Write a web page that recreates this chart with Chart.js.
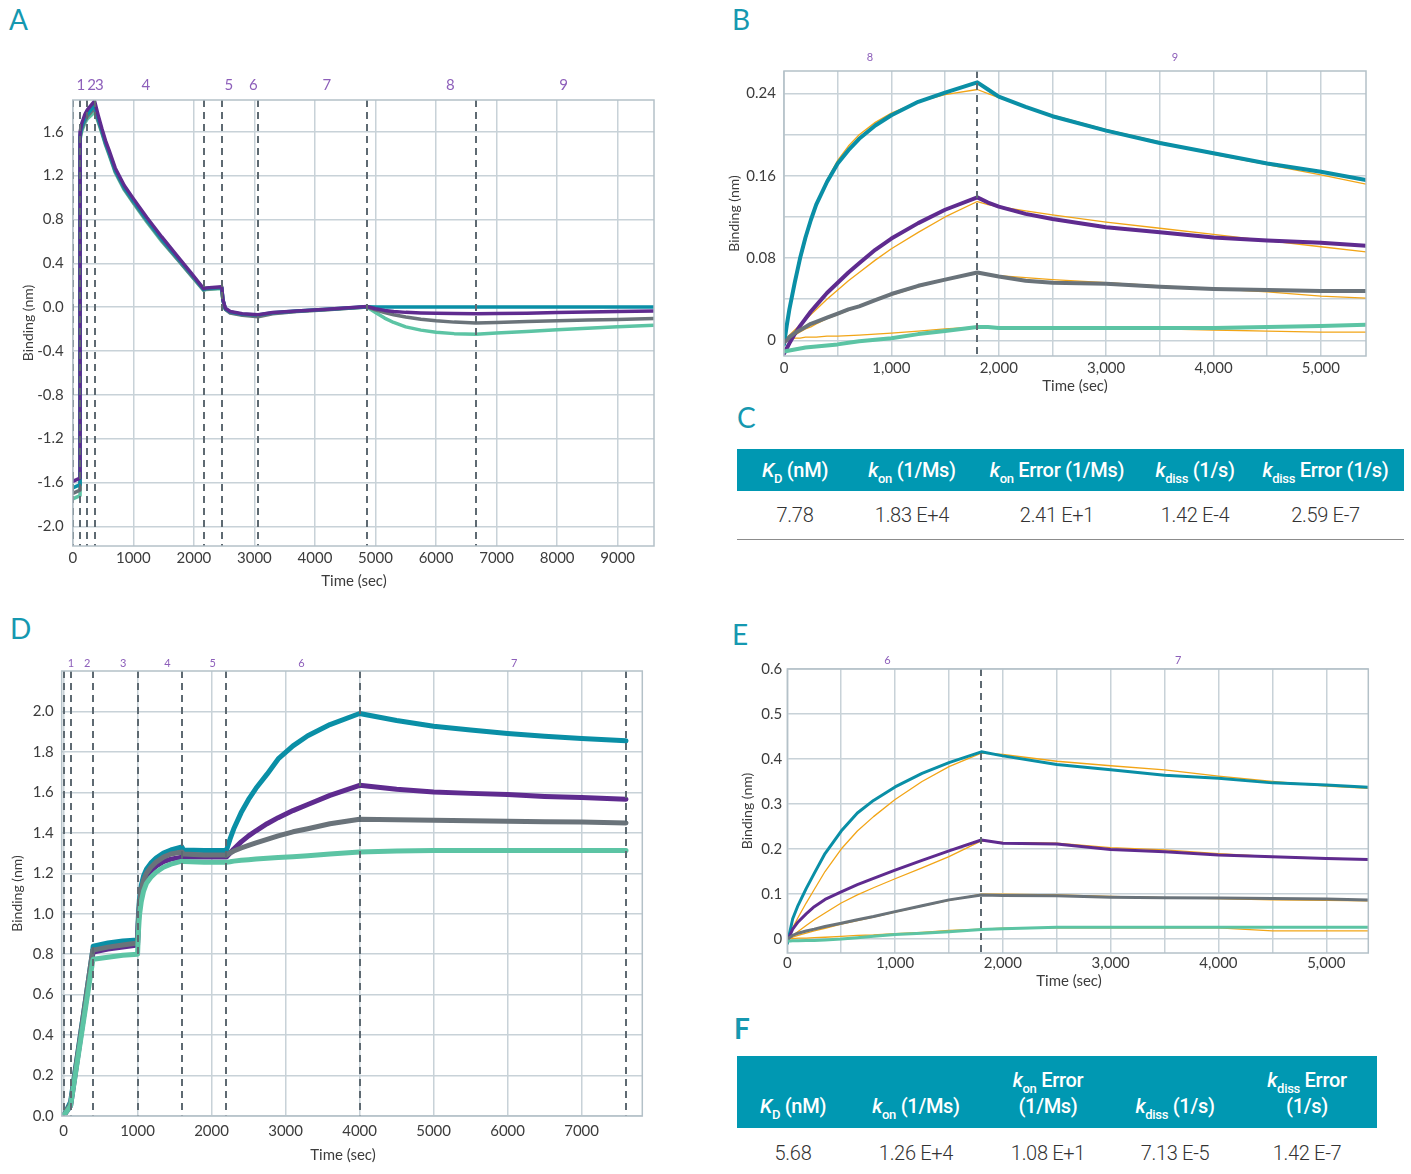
<!DOCTYPE html>
<html><head><meta charset="utf-8">
<script src="https://cdn.jsdelivr.net/npm/chart.js@4.4.0/dist/chart.umd.min.js"></script>
<style>
body{margin:0;background:#fff;width:1411px;height:1174px;position:relative;overflow:hidden;font-family:Lato,sans-serif}
canvas{position:absolute}
.letter{position:absolute;color:#1598b0;font-size:28px;line-height:28px;font-family:Lato,sans-serif;font-weight:400}
table{position:absolute;border-collapse:collapse;table-layout:fixed;font-family:Roboto,sans-serif}
th{background:#0098b2;color:#fff;font-size:20px;font-weight:500;padding:0;text-align:center;letter-spacing:-0.3px}
td{font-size:20px;font-weight:300;color:#333;text-align:center;padding:0;letter-spacing:-0.3px}
sub{font-size:13px;vertical-align:-6px;line-height:0;font-weight:500}
#tc th{height:42px;vertical-align:middle}
#tc td{height:48px;border-bottom:1.5px solid #8c8c8c}
#tf th{height:72px;vertical-align:bottom;padding-bottom:9px;line-height:26px;box-sizing:border-box}
#tf td{height:50px}
</style></head>
<body>
<div class="letter" style="left:9px;top:5px">A</div>
<div class="letter" style="left:732px;top:5px">B</div>
<div class="letter" style="left:737px;top:403px">C</div>
<div class="letter" style="left:10px;top:614px">D</div>
<div class="letter" style="left:732px;top:620px">E</div>
<div class="letter" style="left:734px;top:1014px;font-weight:700">F</div>

<canvas id="cA" width="670" height="540" style="left:0px;top:60px"></canvas>
<canvas id="cB" width="690" height="370" style="left:720px;top:40px"></canvas>
<canvas id="cD" width="670" height="534" style="left:0px;top:640px"></canvas>
<canvas id="cE" width="690" height="370" style="left:720px;top:630px"></canvas>

<table id="tc" style="left:737px;top:449px;width:667px">
<colgroup><col style="width:116px"><col style="width:118px"><col style="width:172px"><col style="width:104px"><col style="width:157px"></colgroup>
<tr><th><i>K</i><sub>D</sub> (nM)</th><th><i>k</i><sub>on</sub> (1/Ms)</th><th><i>k</i><sub>on</sub> Error (1/Ms)</th><th><i>k</i><sub>diss</sub> (1/s)</th><th><i>k</i><sub>diss</sub> Error (1/s)</th></tr>
<tr id="rowC"></tr>
</table>

<table id="tf" style="left:737px;top:1056px;width:640px">
<colgroup><col style="width:112px"><col style="width:134px"><col style="width:130px"><col style="width:124px"><col style="width:140px"></colgroup>
<tr><th><i>K</i><sub>D</sub> (nM)</th><th><i>k</i><sub>on</sub> (1/Ms)</th><th><i>k</i><sub>on</sub> Error<br>(1/Ms)</th><th><i>k</i><sub>diss</sub> (1/s)</th><th><i>k</i><sub>diss</sub> Error<br>(1/s)</th></tr>
<tr id="rowF"></tr>
</table>

<script>
// ---------- table values ----------
const C_VALUES = ['7.78', '1.83 E+4', '2.41 E+1', '1.42 E-4', '2.59 E-7'];
const F_VALUES = ['5.68', '1.26 E+4', '1.08 E+1', '7.13 E-5', '1.42 E-7'];

// ---------- Panel A ----------
const A_T      = [0,120,120,150,200,240,300,360,420,480,540,600,700,850,1000,1220,1470,1720,1950,2160,2200,2460,2480,2520,2600,2800,3060,3300,3700,4200,4860,5000,5150,5300,5500,5750,6000,6300,6660,7000,7500,8000,8500,9000,9600];
const A_PURPLE = [-1.59,-1.56,1.60,1.68,1.76,1.80,1.84,1.88,1.75,1.63,1.52,1.43,1.27,1.11,0.99,0.82,0.64,0.47,0.315,0.168,0.175,0.185,0.07,-0.01,-0.04,-0.06,-0.07,-0.05,-0.035,-0.02,0.005,-0.015,-0.03,-0.04,-0.048,-0.054,-0.057,-0.059,-0.06,-0.058,-0.055,-0.05,-0.045,-0.04,-0.035];
const A_TEAL   = [-1.65,-1.62,1.57,1.65,1.72,1.76,1.80,1.84,1.72,1.61,1.50,1.41,1.25,1.09,0.97,0.80,0.62,0.455,0.305,0.162,0.17,0.18,0.065,-0.015,-0.045,-0.065,-0.072,-0.052,-0.036,-0.02,0.004,0.002,0.001,0.0,0.0,0.0,0.0,0.0,0.0,0.0,0.0,0.0,0.0,0.0,0.0];
const A_GRAY   = [-1.70,-1.67,1.55,1.63,1.70,1.74,1.78,1.81,1.70,1.60,1.49,1.40,1.24,1.08,0.96,0.79,0.61,0.445,0.295,0.157,0.165,0.175,0.06,-0.02,-0.055,-0.075,-0.088,-0.06,-0.04,-0.025,0.0,-0.025,-0.05,-0.07,-0.09,-0.11,-0.125,-0.137,-0.145,-0.14,-0.132,-0.125,-0.118,-0.112,-0.105];
const A_MINT   = [-1.75,-1.72,1.53,1.61,1.68,1.72,1.75,1.78,1.69,1.59,1.48,1.39,1.23,1.07,0.95,0.78,0.60,0.44,0.29,0.152,0.16,0.17,0.06,-0.02,-0.05,-0.07,-0.08,-0.055,-0.038,-0.022,0.0,-0.05,-0.1,-0.14,-0.18,-0.21,-0.23,-0.242,-0.247,-0.237,-0.222,-0.207,-0.193,-0.18,-0.165];
const A_XTICKS = [0,1000,2000,3000,4000,5000,6000,7000,8000,9000];
const A_YTICKS = [-2.0,-1.6,-1.2,-0.8,-0.4,0.0,0.4,0.8,1.2,1.6];
const A_STEPS  = [0,120,240,360,2160,2460,3060,4860,6660];
const A_STEP_LABELS = [['1',135],['2',311],['3',438],['4',1205],['5',2577],['6',2984],['7',4197],['8',6236],['9',8108]];

// ---------- Panel B ----------
const B_T        = [0,25,50,100,150,200,250,300,400,500,600,700,850,1000,1250,1500,1800,1900,2000,2250,2500,3000,3500,4000,4500,5000,5420];
const B_TEAL     = [-0.004,0.014,0.03,0.056,0.08,0.1,0.117,0.132,0.154,0.172,0.185,0.196,0.209,0.219,0.232,0.241,0.251,0.244,0.237,0.227,0.218,0.204,0.192,0.182,0.172,0.164,0.156];
const B_TEAL_FIT = [0.0,0.015,0.029,0.054,0.077,0.097,0.115,0.131,0.156,0.175,0.189,0.2,0.212,0.221,0.232,0.239,0.244,0.24,0.236,0.227,0.219,0.205,0.193,0.181,0.171,0.161,0.152];
const B_PURPLE     = [-0.013,-0.008,-0.003,0.006,0.014,0.021,0.028,0.034,0.046,0.056,0.066,0.075,0.088,0.099,0.114,0.127,0.139,0.134,0.13,0.123,0.118,0.11,0.105,0.1,0.097,0.095,0.092];
const B_PURPLE_FIT = [0.0,0.0025,0.005,0.01,0.015,0.02,0.025,0.03,0.04,0.049,0.058,0.066,0.078,0.089,0.105,0.12,0.135,0.132,0.13,0.126,0.122,0.115,0.109,0.103,0.097,0.091,0.086];
const B_GRAY     = [-0.002,0.0,0.003,0.007,0.01,0.013,0.016,0.018,0.022,0.026,0.03,0.033,0.039,0.045,0.053,0.059,0.066,0.064,0.062,0.058,0.056,0.055,0.052,0.05,0.049,0.048,0.048];
const B_GRAY_FIT = [0.0,0.001,0.002,0.005,0.008,0.011,0.013,0.016,0.021,0.025,0.029,0.033,0.039,0.044,0.052,0.059,0.065,0.064,0.063,0.061,0.059,0.056,0.053,0.05,0.047,0.043,0.041];
const B_MINT     = [-0.011,-0.0105,-0.01,-0.009,-0.008,-0.007,-0.0065,-0.006,-0.005,-0.004,-0.0025,-0.001,0.0005,0.002,0.006,0.009,0.013,0.013,0.012,0.012,0.012,0.012,0.012,0.012,0.013,0.014,0.015];
const B_MINT_FIT = [0.0,0.0005,0.001,0.002,0.002,0.003,0.003,0.003,0.004,0.004,0.0045,0.005,0.006,0.007,0.009,0.011,0.013,0.013,0.013,0.012,0.012,0.011,0.011,0.01,0.009,0.008,0.008];
const B_XTICKS = [0,500,1000,1500,2000,2500,3000,3500,4000,4500,5000];
const B_YTICKS = [0,0.04,0.08,0.12,0.16,0.20,0.24];
const B_STEPS  = [1800];
const B_STEP_LABELS = [['8',800],['9',3640]];

// ---------- Panel D ----------
const D_T      = [0,95,395,400,600,800,1000,1010,1025,1050,1080,1120,1180,1250,1350,1450,1600,1620,1900,2200,2250,2300,2400,2500,2600,2750,2900,3100,3300,3600,4000,4500,5000,5500,6000,6500,7000,7600];
const D_TEAL   = [0.0,0.07,0.82,0.84,0.855,0.865,0.87,0.98,1.07,1.14,1.185,1.22,1.25,1.275,1.30,1.315,1.33,1.315,1.313,1.312,1.37,1.42,1.50,1.565,1.62,1.69,1.765,1.83,1.88,1.935,1.99,1.955,1.927,1.908,1.891,1.877,1.866,1.855];
const D_PURPLE = [0.0,0.05,0.80,0.81,0.825,0.835,0.845,0.95,1.03,1.10,1.145,1.18,1.21,1.235,1.258,1.27,1.28,1.28,1.28,1.28,1.30,1.32,1.355,1.385,1.41,1.445,1.475,1.51,1.54,1.585,1.635,1.615,1.602,1.595,1.59,1.58,1.574,1.566];
const D_GRAY   = [0.0,0.06,0.82,0.82,0.835,0.845,0.855,0.96,1.05,1.12,1.165,1.2,1.23,1.255,1.28,1.295,1.305,1.295,1.29,1.29,1.30,1.31,1.325,1.338,1.35,1.368,1.385,1.405,1.42,1.445,1.467,1.465,1.462,1.46,1.457,1.455,1.453,1.449];
const D_MINT   = [0.0,0.05,0.77,0.775,0.785,0.795,0.80,0.9,0.99,1.06,1.11,1.15,1.18,1.205,1.23,1.245,1.26,1.258,1.255,1.255,1.257,1.26,1.264,1.267,1.27,1.274,1.278,1.282,1.287,1.295,1.305,1.31,1.313,1.313,1.313,1.313,1.313,1.313];
const D_XTICKS = [0,1000,2000,3000,4000,5000,6000,7000];
const D_YTICKS = [0,0.2,0.4,0.6,0.8,1.0,1.2,1.4,1.6,1.8,2.0];
const D_STEPS  = [0,95,395,1000,1600,2200,4000,7600];
const D_STEP_LABELS = [['1',99],['2',319],['3',806],['4',1405],['5',2014],['6',3216],['7',6089]];

// ---------- Panel E ----------
const E_T        = [0,50,100,175,250,350,500,650,800,1000,1250,1500,1800,2000,2500,3000,3500,4000,4500,5000,5390];
const E_TEAL     = [-0.01,0.045,0.075,0.112,0.146,0.19,0.24,0.28,0.308,0.338,0.368,0.392,0.416,0.407,0.388,0.376,0.364,0.357,0.347,0.342,0.337];
const E_TEAL_FIT = [0.0,0.025,0.048,0.08,0.11,0.15,0.2,0.24,0.272,0.31,0.35,0.383,0.413,0.41,0.395,0.385,0.376,0.362,0.35,0.34,0.335];
const E_PURPLE     = [-0.005,0.022,0.038,0.056,0.072,0.088,0.105,0.121,0.135,0.153,0.175,0.196,0.22,0.213,0.211,0.199,0.194,0.187,0.183,0.179,0.177];
const E_PURPLE_FIT = [0.0,0.008,0.017,0.03,0.043,0.058,0.08,0.098,0.114,0.134,0.158,0.183,0.218,0.215,0.213,0.203,0.198,0.19,0.183,0.18,0.177];
const E_GRAY     = [0.0,0.008,0.013,0.018,0.022,0.028,0.035,0.043,0.05,0.061,0.074,0.087,0.098,0.097,0.096,0.093,0.092,0.091,0.09,0.089,0.087];
const E_GRAY_FIT = [0.0,0.004,0.008,0.013,0.018,0.024,0.033,0.041,0.049,0.06,0.073,0.086,0.1,0.1,0.098,0.095,0.092,0.09,0.087,0.086,0.085];
const E_MINT     = [-0.005,-0.004,-0.004,-0.003,-0.003,-0.002,0.0,0.003,0.006,0.01,0.013,0.016,0.021,0.023,0.026,0.026,0.026,0.026,0.026,0.026,0.026];
const E_MINT_FIT = [0.0,0.001,0.002,0.002,0.003,0.004,0.006,0.008,0.009,0.012,0.015,0.019,0.022,0.024,0.025,0.025,0.025,0.025,0.018,0.018,0.018];
const E_XTICKS = [0,500,1000,1500,2000,2500,3000,3500,4000,4500,5000];
const E_YTICKS = [0,0.1,0.2,0.3,0.4,0.5,0.6];
const E_STEPS  = [1800];
const E_STEP_LABELS = [['6',930],['7',3627]];

// ---------- styles ----------
const PURPLE='#5f2b8f', TEAL='#0a8fa6', GRAY='#6a737a', MINT='#5cc4a4', FIT='#f2a517';
const GRID='#c8d2d8', BORDER='#b4c1c8', TXT='#3c3c3c', STEPC='#8d5fba', DASH='#5e6a72';
const FONT='Lato, sans-serif';

document.getElementById('rowC').innerHTML = C_VALUES.map(v=>'<td>'+v+'</td>').join('');
document.getElementById('rowF').innerHTML = F_VALUES.map(v=>'<td>'+v+'</td>').join('');

function mk(id, o){
  const datasets = o.series.map(s=>({
    data: o.T.map((t,i)=>({x:t, y:s.v[i]})),
    borderColor:s.c, borderWidth:s.w, pointRadius:0, tension:0, fill:false,
    borderCapStyle:'round', borderJoinStyle:'round'
  }));
  const deco = {
    id:'deco',
    afterDatasetsDraw(ch){
      const {ctx, chartArea:a, scales:{x}} = ch;
      ctx.save();
      ctx.strokeStyle=DASH; ctx.lineWidth=2; ctx.setLineDash([7,5]);
      o.steps.forEach(t=>{
        const px=Math.round(x.getPixelForValue(t));
        ctx.beginPath(); ctx.moveTo(px,a.top); ctx.lineTo(px,a.bottom); ctx.stroke();
      });
      ctx.restore();
    },
    afterDraw(ch){
      const {ctx, chartArea:a, scales:{x}} = ch;
      ctx.save();
      ctx.strokeStyle=BORDER; ctx.lineWidth=1.5;
      ctx.strokeRect(a.left, a.top, a.right-a.left, a.bottom-a.top);
      ctx.fillStyle=STEPC; ctx.font=o.stepFont; ctx.textAlign='center'; ctx.textBaseline='middle';
      o.stepLabels.forEach(([txt,t])=>ctx.fillText(txt, x.getPixelForValue(t), o.stepY));
      ctx.fillStyle=TXT; ctx.font='15px '+FONT;
      ctx.fillText('Time (sec)', o.xTitle[0], o.xTitle[1]);
      ctx.restore();
    }
  };
  new Chart(document.getElementById(id), {
    type:'line',
    data:{datasets},
    options:{
      responsive:false, animation:false, devicePixelRatio:1,
      layout:{padding:o.pad},
      plugins:{legend:{display:false}, tooltip:{enabled:false}},
      scales:{
        x:{type:'linear', min:o.xMin, max:o.xMax,
          afterBuildTicks:s=>{ s.ticks=o.xTicks.map(v=>({value:v})); },
          afterFit:s=>{ s.height=o.xH; },
          grid:{color:GRID, lineWidth:1.5, drawTicks:false},
          border:{display:false},
          ticks:{autoSkip:false, maxRotation:0, padding:o.xTickPad, color:TXT, font:{family:FONT,size:15}, callback:o.xFmt},
          title:{display:false}
        },
        y:{type:'linear', min:o.yMin, max:o.yMax,
          afterBuildTicks:s=>{ s.ticks=o.yTicks.map(v=>({value:v})); },
          afterFit:s=>{ s.width=o.yW; },
          grid:{color:GRID, lineWidth:1.5, drawTicks:false},
          border:{display:false},
          ticks:{autoSkip:false, padding:o.yTickPad, color:TXT, font:{family:FONT,size:15}, callback:o.yFmt},
          title:{display:true, text:'Binding (nm)', color:TXT, font:{family:FONT,size:14}, padding:{top:o.yTitlePad,bottom:0}}
        }
      }
    },
    plugins:[deco]
  });
}

const comma = v => (v%1000===0) ? v.toLocaleString('en-US') : '';

mk('cA', {
  T:A_T,
  series:[{v:A_PURPLE,c:PURPLE,w:3.5},{v:A_TEAL,c:TEAL,w:3.5},{v:A_GRAY,c:GRAY,w:3.5},{v:A_MINT,c:MINT,w:3.5}],
  xMin:0, xMax:9600, yMin:-2.18, yMax:1.89,
  xTicks:A_XTICKS, yTicks:A_YTICKS,
  xFmt:v=>String(v), yFmt:v=>v.toFixed(1),
  pad:{top:40,right:16,left:0,bottom:9.6}, xH:44.4, yW:72.8, xTickPad:3, yTickPad:9, yTitlePad:19.6,
  steps:A_STEPS, stepLabels:A_STEP_LABELS, stepFont:'15px '+FONT, stepY:25, xTitle:[354,521]
});

mk('cB', {
  T:B_T,
  series:[{v:B_MINT,c:MINT,w:4},{v:B_GRAY,c:GRAY,w:4},{v:B_PURPLE,c:PURPLE,w:4},{v:B_TEAL,c:TEAL,w:4},
          {v:B_TEAL_FIT,c:FIT,w:1.3},{v:B_PURPLE_FIT,c:FIT,w:1.3},{v:B_GRAY_FIT,c:FIT,w:1.3},{v:B_MINT_FIT,c:FIT,w:1.3}],
  xMin:0, xMax:5420, yMin:-0.0153, yMax:0.262,
  xTicks:B_XTICKS, yTicks:B_YTICKS,
  xFmt:comma, yFmt:v=>{ const r=v/0.08; if(Math.abs(r-Math.round(r))>1e-6) return ''; return v===0?'0':v.toFixed(2); },
  pad:{top:31,right:44,left:0,bottom:14}, xH:40, yW:64, xTickPad:3, yTickPad:8, yTitlePad:5.6,
  steps:B_STEPS, stepLabels:B_STEP_LABELS, stepFont:'11px '+FONT, stepY:17, xTitle:[355,346]
});

mk('cD', {
  T:D_T,
  series:[{v:D_MINT,c:MINT,w:5},{v:D_GRAY,c:GRAY,w:5},{v:D_PURPLE,c:PURPLE,w:5},{v:D_TEAL,c:TEAL,w:5}],
  xMin:-25, xMax:7820, yMin:0, yMax:2.2,
  xTicks:D_XTICKS, yTicks:D_YTICKS,
  xFmt:v=>String(v), yFmt:v=>v.toFixed(1),
  pad:{top:31,right:27.7,left:0,bottom:10.6}, xH:47.4, yW:61.7, xTickPad:6, yTickPad:8, yTitlePad:8.6,
  steps:D_STEPS, stepLabels:D_STEP_LABELS, stepFont:'11px '+FONT, stepY:23, xTitle:[343,515]
});

mk('cE', {
  T:E_T,
  series:[{v:E_MINT,c:MINT,w:3},{v:E_GRAY,c:GRAY,w:3},{v:E_PURPLE,c:PURPLE,w:3},{v:E_TEAL,c:TEAL,w:3},
          {v:E_TEAL_FIT,c:FIT,w:1.3},{v:E_PURPLE_FIT,c:FIT,w:1.3},{v:E_GRAY_FIT,c:FIT,w:1.3},{v:E_MINT_FIT,c:FIT,w:1.3}],
  xMin:0, xMax:5390, yMin:-0.031, yMax:0.6,
  xTicks:E_XTICKS, yTicks:E_YTICKS,
  xFmt:comma, yFmt:v=>v===0?'0':v.toFixed(1),
  pad:{top:39,right:41.7,left:0,bottom:10.6}, xH:36.4, yW:67.3, xTickPad:1, yTickPad:5, yTitlePad:18.6,
  steps:E_STEPS, stepLabels:E_STEP_LABELS, stepFont:'11px '+FONT, stepY:30, xTitle:[349,351]
});
</script>
</body></html>
